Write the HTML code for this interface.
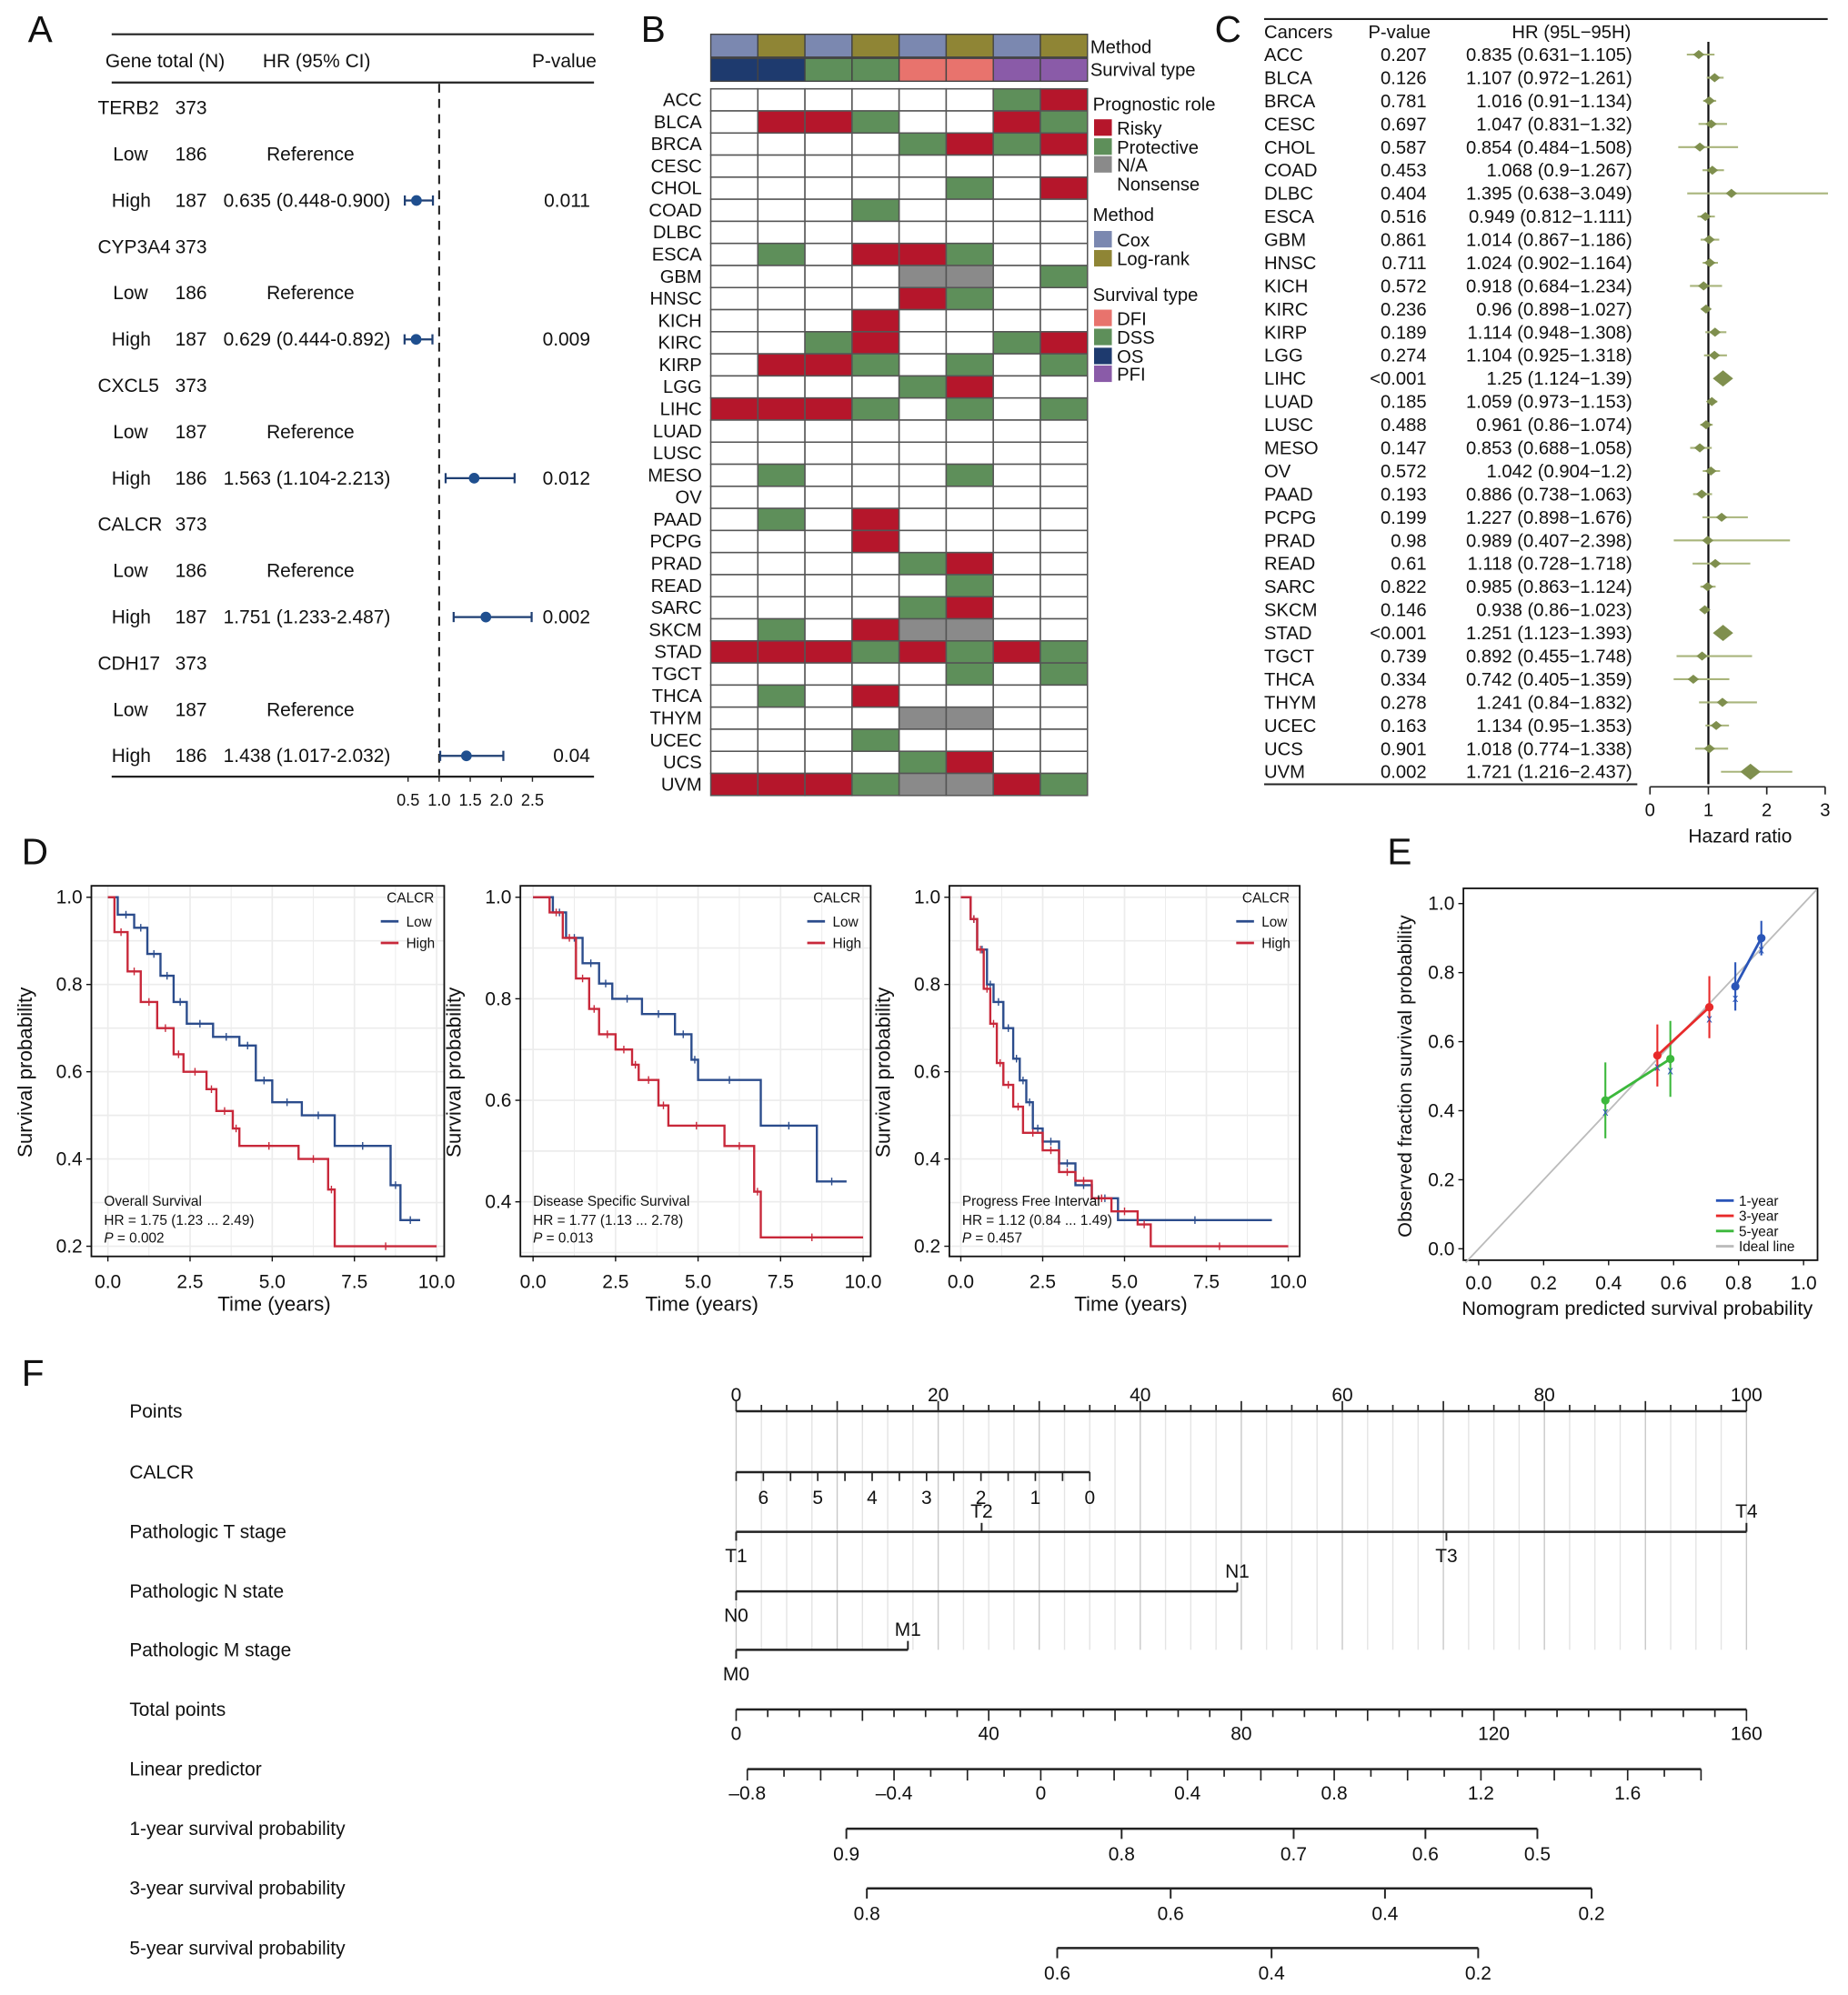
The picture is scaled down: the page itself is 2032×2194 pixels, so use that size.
<!DOCTYPE html>
<html><head><meta charset="utf-8">
<style>html,body{margin:0;padding:0;background:#fff}svg{display:block;font-family:"Liberation Sans",Arial,sans-serif}</style>
</head><body>
<svg id="fig" width="2032" height="2194" viewBox="0 0 1456 1572" preserveAspectRatio="none" xmlns="http://www.w3.org/2000/svg"></svg>
<script>
// ---------- Panel A data ----------
const genesA = ['TERB2','CYP3A4','CXCL5','CALCR','CDH17'];
const totalA = [373,373,373,373,373];
const lowNA = [186,186,187,186,187];
const highNA = [187,187,186,187,186];
const hrA = [0.635,0.629,1.563,1.751,1.438];
const loA = [0.448,0.444,1.104,1.233,1.017];
const hiA = [0.900,0.892,2.213,2.487,2.032];
const hrTextA = ['0.635 (0.448-0.900)','0.629 (0.444-0.892)','1.563 (1.104-2.213)','1.751 (1.233-2.487)','1.438 (1.017-2.032)'];
const pA = ['0.011','0.009','0.012','0.002','0.04'];
const ticksA = [0.5,1.0,1.5,2.0,2.5];
const tickLabelsA = ['0.5','1.0','1.5','2.0','2.5'];
// ---------- Panel B data ----------
const cancersB = ['ACC','BLCA','BRCA','CESC','CHOL','COAD','DLBC','ESCA','GBM','HNSC','KICH','KIRC','KIRP','LGG','LIHC','LUAD','LUSC','MESO','OV','PAAD','PCPG','PRAD','READ','SARC','SKCM','STAD','TGCT','THCA','THYM','UCEC','UCS','UVM'];
const methodB = ['Cox','Log-rank','Cox','Log-rank','Cox','Log-rank','Cox','Log-rank'];
const survTypeB = ['OS','OS','DSS','DSS','DFI','DFI','PFI','PFI'];
const roleB = [
'000000GR','0RRG00RG','0000GRGR','00000000','00000G0R','000G0000','00000000','0G0RRG00',
'0000NN0G','0000RG00','000R0000','00GR00GR','0RRG0G0G','0000GR00','RRRG0G0G','00000000',
'00000000','0G000G00','00000000','0G0R0000','000R0000','0000GR00','00000G00','0000GR00',
'0G0RNN00','RRRGRGRG','00000G0G','0G0R0000','0000NN00','000G0000','0000GR00','RRRGNNRG'];
// ---------- Panel C data ----------
const cancersC = ['ACC','BLCA','BRCA','CESC','CHOL','COAD','DLBC','ESCA','GBM','HNSC','KICH','KIRC','KIRP','LGG','LIHC','LUAD','LUSC','MESO','OV','PAAD','PCPG','PRAD','READ','SARC','SKCM','STAD','TGCT','THCA','THYM','UCEC','UCS','UVM'];
const pC = ['0.207','0.126','0.781','0.697','0.587','0.453','0.404','0.516','0.861','0.711','0.572','0.236','0.189','0.274','<0.001','0.185','0.488','0.147','0.572','0.193','0.199','0.98','0.61','0.822','0.146','<0.001','0.739','0.334','0.278','0.163','0.901','0.002'];
const hrC = [0.835,1.107,1.016,1.047,0.854,1.068,1.395,0.949,1.014,1.024,0.918,0.96,1.114,1.104,1.25,1.059,0.961,0.853,1.042,0.886,1.227,0.989,1.118,0.985,0.938,1.251,0.892,0.742,1.241,1.134,1.018,1.721];
const loC = [0.631,0.972,0.91,0.831,0.484,0.9,0.638,0.812,0.867,0.902,0.684,0.898,0.948,0.925,1.124,0.973,0.86,0.688,0.904,0.738,0.898,0.407,0.728,0.863,0.86,1.123,0.455,0.405,0.84,0.95,0.774,1.216];
const hiC = [1.105,1.261,1.134,1.32,1.508,1.267,3.049,1.111,1.186,1.164,1.234,1.027,1.308,1.318,1.39,1.153,1.074,1.058,1.2,1.063,1.676,2.398,1.718,1.124,1.023,1.393,1.748,1.359,1.832,1.353,1.338,2.437];
const ticksC = [0,1,2,3];
// ---------- Panel D data ----------
const kmTitles = ['Overall Survival','Disease Specific Survival','Progress Free Interval'];
const kmHR = ['HR = 1.75 (1.23 ... 2.49)','HR = 1.77 (1.13 ... 2.78)','HR = 1.12 (0.84 ... 1.49)'];
const kmP = ['0.002','0.013','0.457'];
const osLowT = [0,0.3,0.8,1.2,1.6,2.0,2.4,3.2,4.0,4.5,5.0,5.9,6.9,8.6,8.9,9.5];
const osLowS = [1,0.96,0.93,0.87,0.82,0.76,0.71,0.68,0.66,0.58,0.53,0.50,0.43,0.34,0.26,0.26];
const osHighT = [0,0.2,0.6,1.0,1.5,2.0,2.3,3.0,3.3,3.8,4.0,5.8,6.7,6.9,10];
const osHighS = [1,0.92,0.83,0.76,0.70,0.64,0.60,0.56,0.51,0.47,0.43,0.40,0.33,0.20,0.20];
const dssLowT = [0,0.6,1.0,1.5,2.0,2.4,3.3,4.3,4.8,5.0,6.9,8.6,9.5];
const dssLowS = [1,0.97,0.92,0.87,0.83,0.80,0.77,0.73,0.68,0.64,0.55,0.44,0.44];
const dssHighT = [0,0.5,0.9,1.3,1.7,2.0,2.5,3.0,3.2,3.8,4.1,5.8,6.7,6.9,10];
const dssHighS = [1,0.97,0.92,0.84,0.78,0.73,0.70,0.67,0.64,0.59,0.55,0.51,0.42,0.33,0.33];
const pfiLowT = [0,0.3,0.5,0.8,1.0,1.3,1.6,1.8,2.0,2.2,2.5,3.0,3.5,4.0,4.8,9.5];
const pfiLowS = [1,0.95,0.88,0.80,0.76,0.70,0.63,0.58,0.53,0.47,0.44,0.39,0.34,0.31,0.26,0.26];
const pfiHighT = [0,0.3,0.5,0.7,0.9,1.1,1.3,1.6,1.9,2.5,3.0,3.5,4.0,4.6,5.4,5.8,10];
const pfiHighS = [1,0.95,0.88,0.79,0.71,0.62,0.57,0.52,0.46,0.42,0.37,0.35,0.31,0.28,0.25,0.20,0.20];
const kmXTicks = [0,2.5,5,7.5,10];
const kmXLabels = ['0.0','2.5','5.0','7.5','10.0'];
// ---------- Panel E data ----------
const calPredX1 = [0.79,0.87]; const calObsY1 = [0.76,0.90]; const calErr1 = [0.07,0.05];
const calPredX3 = [0.55,0.71]; const calObsY3 = [0.56,0.70]; const calErr3 = [0.09,0.09];
const calPredX5 = [0.39,0.59]; const calObsY5 = [0.43,0.55]; const calErr5 = [0.11,0.11];
const calTicks = [0,0.2,0.4,0.6,0.8,1.0];
const calTickLabels = ['0.0','0.2','0.4','0.6','0.8','1.0'];
// ---------- Panel F data ----------
const nomoRows = ['Points','CALCR','Pathologic T stage','Pathologic N  state','Pathologic M stage','Total points','Linear predictor','1-year survival probability','3-year survival probability','5-year survival probability'];
const pointsLabels = [0,20,40,60,80,100];
const calcrVals = [6,5,4,3,2,1,0];
const tStageLabels = ['T1','T2','T3','T4']; const tStagePts = [0,24.3,70.3,100];
const nStageLabels = ['N0','N1']; const nStagePts = [0,49.6];
const mStageLabels = ['M0','M1']; const mStagePts = [0,17];
const totalLabels = [0,40,80,120,160];
const lpLabels = [-0.8,-0.4,0,0.4,0.8,1.2,1.6];
const surv1Labels = [0.9,0.8,0.7,0.6,0.5];
const surv3Labels = [0.8,0.6,0.4,0.2];
const surv5Labels = [0.6,0.4,0.2];

const NS='http://www.w3.org/2000/svg';
const svg=document.getElementById('fig');
function mk(tag, attrs, parent, name, text){
  const el=document.createElementNS(NS,tag);
  for(const k in attrs) el.setAttribute(k,attrs[k]);
  
  
  if(text!==undefined) el.textContent=text;
  parent.appendChild(el);
  return el;
}
function line(p,x1,y1,x2,y2,st,w,name,extra){const a={x1,y1,x2,y2,stroke:st,'stroke-width':w};if(extra)Object.assign(a,extra);return mk('line',a,p,name);}
function txt(p,x,y,s,size,name,anchor,extra){const a={x,y,'font-size':size,fill:'#111'};if(anchor)a['text-anchor']=anchor;if(extra)Object.assign(a,extra);return mk('text',a,p,name,s);}

// panel letters
const letters=[['A',22,33],['B',505,33],['C',957,33],['D',17,681],['E',1093,681],['F',17,1092]];
letters.forEach(l=>txt(svg,l[1],l[2],l[0],29,'panel-label-'+l[0].toLowerCase()));

// ================= Panel A =================
const gA=mk('g',{},svg,'panel-a-forest-plot');
const axA=v=>297+49*v;
line(gA,88,27,468,27,'#222',1.6,'top-rule');
line(gA,88,65,468,65,'#222',1.6,'header-rule');
line(gA,88,612,468,612,'#222',1.6,'bottom-rule');
txt(gA,83,53,'Gene total (N)',15,'header-gene-total');
txt(gA,207,53,'HR (95% CI)',15,'header-hr');
txt(gA,470,53,'P-value',15,'header-p-value','end');
line(gA,axA(1),66,axA(1),611,'#222',1.5,'reference-line',{'stroke-dasharray':'7,5'});
genesA.forEach((g,i)=>{
  const y0=90+i*109.4;
  txt(gA,77,y0,g,15,'gene-label');
  txt(gA,138,y0,String(totalA[i]),15,'gene-total');
  txt(gA,89,y0+36.5,'Low',15,'low-label');
  txt(gA,138,y0+36.5,String(lowNA[i]),15,'low-n');
  txt(gA,210,y0+36.5,'Reference',15,'reference-text');
  txt(gA,88,y0+73,'High',15,'high-label');
  txt(gA,138,y0+73,String(highNA[i]),15,'high-n');
  txt(gA,176,y0+73,hrTextA[i],15,'hr-text');
  txt(gA,465,y0+73,pA[i],15,'p-value','end');
  const yc=y0+68;
  line(gA,axA(loA[i]),yc,axA(hiA[i]),yc,'#1f3f73',1.6,'ci-line');
  line(gA,axA(loA[i]),yc-4,axA(loA[i]),yc+4,'#1f3f73',1.6,'ci-cap');
  line(gA,axA(hiA[i]),yc-4,axA(hiA[i]),yc+4,'#1f3f73',1.6,'ci-cap');
  mk('circle',{cx:axA(hrA[i]),cy:yc,r:4.2,fill:'#1f4f8f'},gA,'hr-point');
});
ticksA.forEach((t,i)=>{line(gA,axA(t),612,axA(t),616,'#222',1,'x-tick');txt(gA,axA(t),635,tickLabelsA[i],13,'x-tick-label','middle');});

// ================= Panel B =================
const gB=mk('g',{},svg,'panel-b-heatmap');
const bx0=560,bw=37.1,by0=70,bh=17.4;
const colCol={Cox:'#7b88b0','Log-rank':'#8f8535',DFI:'#e8736d',DSS:'#5e8f5a',OS:'#1e3a6e',PFI:'#8a5ba8'};
const roleCol={'0':'#ffffff',R:'#b5162b',G:'#5e8f5a',N:'#8a8a8a'};
methodB.forEach((m,j)=>mk('rect',{x:bx0+j*bw,y:27,width:bw,height:18,fill:colCol[m],stroke:'#444','stroke-width':1},gB,'method-cell'));
survTypeB.forEach((m,j)=>mk('rect',{x:bx0+j*bw,y:46,width:bw,height:18,fill:colCol[m],stroke:'#444','stroke-width':1},gB,'survival-type-cell'));
cancersB.forEach((c,i)=>{
  txt(gB,553,by0+i*bh+13.5,c,14.5,'row-label','end');
  for(let j=0;j<8;j++){
    mk('rect',{x:bx0+j*bw,y:by0+i*bh,width:bw,height:bh,fill:roleCol[roleB[i][j]],stroke:'#555','stroke-width':1.1},gB,'heatmap-cell');
  }
});
txt(gB,859,42,'Method',14.5,'annotation-method-label');
txt(gB,859,60,'Survival type',14.5,'annotation-survival-label');
const legB=[['Prognostic role',87,null],['Risky',106,'#b5162b'],['Protective',121,'#5e8f5a'],['N/A',135,'#8a8a8a'],['Nonsense',150,'nil'],
['Method',174,null],['Cox',194,'#7b88b0'],['Log-rank',209,'#8f8535'],['Survival type',237,null],['DFI',256,'#e8736d'],['DSS',271,'#5e8f5a'],['OS',286,'#1e3a6e'],['PFI',300,'#8a5ba8']];
legB.forEach(l=>{
  if(l[2]===null){txt(gB,861,l[1],l[0],14.5,'legend-title');}
  else{ if(l[2]!=='nil') mk('rect',{x:862,y:l[1]-12,width:14,height:13,fill:l[2]},gB,'legend-swatch');
    txt(gB,880,l[1],l[0],14.5,'legend-entry');}
});

// ================= Panel C =================
const gC=mk('g',{},svg,'panel-c-pan-cancer-forest');
const axC=v=>1300+46*v;
line(gC,996,15,1440,15,'#222',1.6,'top-rule');
line(gC,996,618,1290,618,'#222',1.4,'bottom-rule');
txt(gC,996,30,'Cancers',14.5,'header-cancers');
txt(gC,1078,30,'P-value',14.5,'header-p-value');
txt(gC,1285,30,'HR (95L\u221295H)',14.5,'header-hr','end');
line(gC,axC(1),33,axC(1),618,'#111',1.6,'reference-line');
cancersC.forEach((c,i)=>{
  const y=43+i*18.23;
  txt(gC,996,y+5,c,14.5,'cancer-label');
  txt(gC,1124,y+5,pC[i],14.5,'p-value','end');
  txt(gC,1286,y+5,hrC[i]+' ('+loC[i]+'\u2212'+hiC[i]+')',14.5,'hr-text','end');
  line(gC,axC(loC[i]),y,Math.min(axC(hiC[i]),1442),y,'#a9b57c',1.5,'ci-line');
  const r=(pC[i].indexOf('<')===0||parseFloat(pC[i])<0.01)?8:4.5;
  const x=axC(hrC[i]);
  mk('polygon',{points:`${x-r},${y} ${x},${y-r*0.8} ${x+r},${y} ${x},${y+r*0.8}`,fill:'#7f8f4e'},gC,'hr-diamond');
});
line(gC,axC(0),620,axC(3),620,'#222',1.2,'x-axis');
ticksC.forEach(t=>{line(gC,axC(t),620,axC(t),626,'#222',1.2,'x-tick');txt(gC,axC(t),643,String(t),14.5,'x-tick-label','middle');});
txt(gC,1371,664,'Hazard ratio',15,'x-axis-title','middle');

// ================= Panel D =================
const gD=mk('g',{},svg,'panel-d-km-curves');
const kmBoxes=[[72,350,85,344],[410,686,420,680],[748,1024,757,1015]];
const kmSeries=[[osLowT,osLowS,osHighT,osHighS],[dssLowT,dssLowS,dssHighT,dssHighS],[pfiLowT,pfiLowS,pfiHighT,pfiHighS]];
const kmY=[[0.2,1.0],[0.4,1.0],[0.2,1.0]];
const kmYticks=[[0.2,0.4,0.6,0.8,1.0],[0.4,0.6,0.8,1.0],[0.2,0.4,0.6,0.8,1.0]];
kmBoxes.forEach((b,k)=>{
  const g=mk('g',{},gD,'km-plot-'+(k+1));
  const sx=t=>b[2]+(b[3]-b[2])*t/10;
  const y0=kmY[k][0];const yPix=k===1?947:982;
  const sy=v=>707+(1-v)*(yPix-707)/(1-y0);
  mk('rect',{x:b[0],y:698,width:b[1]-b[0],height:292,fill:'#fff'},g,'plot-background');
  for(let t=0;t<=10;t+=1.25) line(g,sx(t),698,sx(t),990,'#ececec',t%2.5===0?1.2:0.7,'grid-x');
  const ys=kmYticks[k];
  for(let v=ys[0]-0.1;v<=1.0001;v+=0.1) if(sy(v)<990&&sy(v)>698) line(g,b[0],sy(v),b[1],sy(v),'#ececec',1.2,'grid-y');
  [[0,'#2b4c8c','low-curve'],[2,'#c8283a','high-curve']].forEach(s=>{
    const T=kmSeries[k][s[0]],S=kmSeries[k][s[0]+1];
    let d=`M${sx(T[0])},${sy(S[0])}`;
    for(let i=1;i<T.length;i++){d+=` H${sx(T[i])} V${sy(S[i])}`;}
    mk('path',{d,fill:'none',stroke:s[1],'stroke-width':1.7},g,s[2]);
    for(let i=1;i<T.length-1;i++){const xm=(sx(T[i])+sx(T[i+1]))/2;line(g,xm,sy(S[i])-3,xm,sy(S[i])+3,s[1],1,'censor-mark');}
  });
  mk('rect',{x:b[0],y:698,width:b[1]-b[0],height:292,fill:'none',stroke:'#111','stroke-width':1.3},g,'plot-border');
  ys.forEach(v=>{line(g,b[0]-4,sy(v),b[0],sy(v),'#111',1,'y-tick');txt(g,b[0]-7,sy(v)+5,v.toFixed(1),15,'y-tick-label','end');});
  kmXTicks.forEach((t,i)=>{line(g,sx(t),990,sx(t),994,'#111',1,'x-tick');txt(g,sx(t),1015,kmXLabels[i],15,'x-tick-label','middle');});
  txt(g,(b[0]+b[1])/2+5,1033,'Time (years)',16,'x-axis-title','middle');
  const yl=b[0]-47;
  txt(g,yl,845,'Survival probability',16,'y-axis-title','middle',{transform:`rotate(-90 ${yl} 845)`});
  txt(g,b[1]-8,711,'CALCR',11,'legend-title','end');
  line(g,b[1]-50,726,b[1]-36,726,'#2b4c8c',2,'legend-low-line');
  txt(g,b[1]-30,730,'Low',11,'legend-low');
  line(g,b[1]-50,743,b[1]-36,743,'#c8283a',2,'legend-high-line');
  txt(g,b[1]-30,747,'High',11,'legend-high');
  txt(g,b[0]+10,950,kmTitles[k],11,'survival-type-label');
  txt(g,b[0]+10,965,kmHR[k],11,'hr-annotation');
  const pt=txt(g,b[0]+10,979,'',11,'p-annotation');
  const ps=document.createElementNS(NS,'tspan');
  
  
  ps.setAttribute('font-style','italic');ps.textContent='P';pt.appendChild(ps);
  pt.appendChild(document.createTextNode(' = '+kmP[k]));
});

// ================= Panel E =================
const gE=mk('g',{},svg,'panel-e-calibration');
const ex=v=>1165+256*v, ey=v=>984-272*v;
mk('rect',{x:1153,y:700,width:279,height:293,fill:'#fff',stroke:'#111','stroke-width':1.3},gE,'plot-border');
line(gE,ex(-0.04),ey(-0.04),ex(1.04),ey(1.04),'#bbbbbb',1.3,'ideal-line');
[[calPredX5,calObsY5,calErr5,'#3cb83c','5-year'],[calPredX3,calObsY3,calErr3,'#e82a2a','3-year'],[calPredX1,calObsY1,calErr1,'#2a55b8','1-year']].forEach(s=>{
  line(gE,ex(s[0][0]),ey(s[1][0]),ex(s[0][1]),ey(s[1][1]),s[3],2,'calibration-line-'+s[4]);
  s[0].forEach((x,i)=>{
    line(gE,ex(x),ey(s[1][i]-s[2][i]),ex(x),ey(s[1][i]+s[2][i]),s[3],1.5,'error-bar-'+s[4]);
    mk('circle',{cx:ex(x),cy:ey(s[1][i]),r:3.3,fill:s[3]},gE,'calibration-point-'+s[4]);
    txt(gE,ex(x),ey(s[1][i]-0.03)+4,'x',9,'bias-corrected-mark','middle',{fill:'#2a55b8'});
  });
});
calTicks.forEach((t,i)=>{
  line(gE,ex(t),993,ex(t),997,'#111',1,'x-tick');txt(gE,ex(t),1016,calTickLabels[i],15,'x-tick-label','middle');
  line(gE,1149,ey(t),1153,ey(t),'#111',1,'y-tick');txt(gE,1146,ey(t)+5,calTickLabels[i],15,'y-tick-label','end');
});
txt(gE,1290,1036,'Nomogram predicted survival probability',15.5,'x-axis-title','middle');
txt(gE,1112,848,'Observed fraction survival probability',15.5,'y-axis-title','middle',{transform:'rotate(-90 1112 848)'});
[['1-year','#2a55b8',946],['3-year','#e82a2a',958],['5-year','#3cb83c',970],['Ideal line','#bbbbbb',982]].forEach(l=>{
  line(gE,1352,l[2],1366,l[2],l[1],2,'legend-line');txt(gE,1370,l[2]+4,l[0],11,'legend-entry');
});

// ================= Panel F =================
const gF=mk('g',{},svg,'panel-f-nomogram');
const px=p=>580+7.96*p;
const rowY=[1112,1160,1207,1254,1300,1347,1394,1441,1488,1535];
nomoRows.forEach((r,i)=>txt(gF,102,rowY[i]+5,r,15,'row-label'));
for(let p=0;p<=100;p+=2.5){
  const major=p%10===0;
  line(gF,px(p),1112,px(p),1300,major?'#c8c8c8':'#e4e4e4',1,'grid-line');
  line(gF,px(p),1112,px(p),major?1104:1107,'#222',1.2,'points-tick');
}
line(gF,px(0),1112,px(100),1112,'#222',1.8,'points-axis');
pointsLabels.forEach(p=>txt(gF,px(p),1104,String(p),15,'points-label','middle'));
// CALCR axis: value v -> points 35*(6.5-v)/6.5
const cx=v=>px(35*(6.5-v)/6.5);
line(gF,cx(6.5),1160,cx(0),1160,'#222',1.8,'calcr-axis');
for(let v=0;v<=6.5;v+=0.5) line(gF,cx(v),1160,cx(v),1167,'#222',1.2,'calcr-tick');
calcrVals.forEach(v=>txt(gF,cx(v),1185,String(v),15,'calcr-label','middle'));
function catAxis(y,labels,pts,nm){
  line(gF,px(pts[0]),y,px(pts[pts.length-1]),y,'#222',1.8,nm+'-axis');
  labels.forEach((l,i)=>{
    const up=i%2===1;
    line(gF,px(pts[i]),y,px(pts[i]),up?y-7:y+7,'#222',1.4,nm+'-tick');
    txt(gF,px(pts[i]),up?y-11:y+24,l,15,nm+'-label','middle');
  });
}
catAxis(1207,tStageLabels,tStagePts,'t-stage');
catAxis(1254,nStageLabels,nStagePts,'n-stage');
catAxis(1300,mStageLabels,mStagePts,'m-stage');
const tx=t=>580+796*t/160;
line(gF,tx(0),1347,tx(160),1347,'#222',1.8,'total-points-axis');
for(let t=0;t<=160;t+=5) line(gF,tx(t),1347,tx(t),t%20===0?1356:1353,'#222',1.2,'total-points-tick');
totalLabels.forEach(t=>txt(gF,tx(t),1371,String(t),15,'total-points-label','middle'));
const lx=v=>820+289*v;
line(gF,lx(-0.8),1394,lx(1.8),1394,'#222',1.8,'linear-predictor-axis');
for(let k=-8;k<=18;k++) line(gF,lx(k/10),1394,lx(k/10),k%2===0?1403:1400,'#222',1.2,'linear-predictor-tick');
lpLabels.forEach(v=>txt(gF,lx(v),1418,v<0?'\u2013'+Math.abs(v).toFixed(1):(v===0?'0':v.toFixed(1)),15,'linear-predictor-label','middle'));
function survAxis(y,labels,h,nm){
  const sxp=s=>lx(Math.log(Math.log(s)/(-h)));
  line(gF,sxp(labels[0]),y,sxp(labels[labels.length-1]),y,'#222',1.8,nm+'-axis');
  labels.forEach(s=>{line(gF,sxp(s),y,sxp(s),y+8,'#222',1.4,nm+'-tick');txt(gF,sxp(s),y+25,String(s),15,nm+'-label','middle');});
}
survAxis(1441,surv1Labels,0.179,'one-year');
survAxis(1488,surv3Labels,0.3585,'three-year');
survAxis(1535,surv5Labels,0.4884,'five-year');
</script>
</body></html>
